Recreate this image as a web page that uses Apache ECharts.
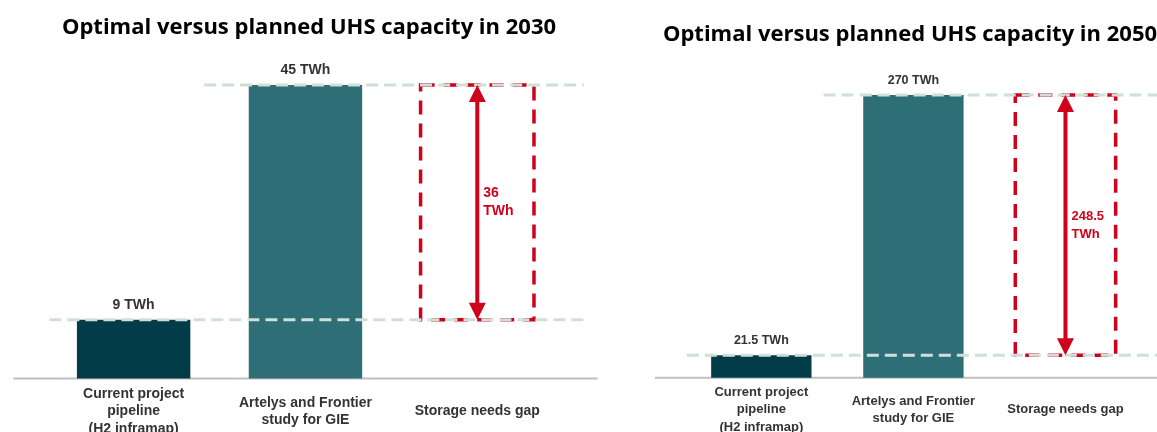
<!DOCTYPE html>
<html>
<head>
<meta charset="utf-8">
<script src="https://cdn.jsdelivr.net/npm/echarts@6/dist/echarts.min.js"></script>
<style>
  html, body { margin: 0; padding: 0; background: #ffffff; }
  #chart { width: 1157px; height: 432px; }
</style>
</head>
<body>
<div id="chart"></div>
<script>
// ---- data ----
const titles = ['Optimal versus planned UHS capacity in 2030', 'Optimal versus planned UHS capacity in 2050'];
const categories = ['Current project\npipeline\n(H2 inframap)', 'Artelys and Frontier\nstudy for GIE', 'Storage needs gap'];
const pipelineTWh = [9, 21.5];   // current project pipeline (H2 inframap)
const studyTWh = [45, 270];      // Artelys and Frontier study for GIE
const unit = 'TWh';

// ---- style ----
const DARK = '#033c49';
const TEAL = '#2e6e77';
const RED = '#d0021b';
const GUIDE = '#cfe0d8';
const AXIS = '#bfbfbf';
const TXT = '#333333';
const SANS = '"Liberation Sans", Arial, sans-serif';

const layout = [
  { grid: { left: 47.7, right: 593.8, top: 85, bottom: 53.5 }, titleX: 304, titleTop: 9, labelSize: 14, barLabelSize: 14, gapSize: 14, labelMargin: 33 },
  { grid: { left: 685.3, right: 15.5, top: 95, bottom: 54.3 }, titleX: 905, titleTop: 16, labelSize: 13, barLabelSize: 12.5, gapSize: 13, labelMargin: 32 }
];

const fmt = v => (Math.round(v * 10) / 10).toString();

const option = {
  animation: false,
  backgroundColor: '#ffffff',
  title: [],
  grid: [],
  xAxis: [],
  yAxis: [],
  series: []
};

layout.forEach((L, i) => {
  option.title.push({
    text: titles[i],
    left: L.titleX,
    top: L.titleTop,
    textAlign: 'center',
    textStyle: { fontFamily: '"Open Sans", Lato, sans-serif', fontWeight: 'bold', fontSize: 22, color: '#000', lineHeight: 28 }
  });
  option.grid.push(Object.assign({ containLabel: false, outerBoundsMode: 'none' }, L.grid));
  option.xAxis.push({
    type: 'category', gridIndex: i, data: categories,
    axisLine: { show: false }, axisTick: { show: false }, splitLine: { show: false },
    axisLabel: {
      interval: 0, margin: L.labelMargin, verticalAlign: 'middle',
      fontFamily: SANS, fontWeight: 'bold', fontSize: L.labelSize, lineHeight: 17.5, color: TXT
    }
  });
  option.yAxis.push({ type: 'value', gridIndex: i, min: 0, max: studyTWh[i], show: false });

  // baseline (drawn under the bars, extends past outer categories)
  option.series.push({
    type: 'custom', xAxisIndex: i, yAxisIndex: i, z: 1, silent: true,
    data: [[0, 2]],
    renderItem: (params, api) => {
      const band = api.size([1, 0])[0];
      const a = api.coord([api.value(0), 0]);
      const b = api.coord([api.value(1), 0]);
      return { type: 'line', shape: { x1: a[0] - 0.7 * band, y1: a[1], x2: b[0] + 0.7 * band, y2: b[1] },
               style: { stroke: AXIS, lineWidth: 2 } };
    }
  });

  // bars
  option.series.push({
    type: 'bar', xAxisIndex: i, yAxisIndex: i, z: 2, barWidth: '66%',
    data: [
      { value: pipelineTWh[i], itemStyle: { color: DARK } },
      { value: studyTWh[i], itemStyle: { color: TEAL } },
      '-'
    ],
    label: {
      show: true, position: 'top', distance: 8,
      formatter: p => fmt(p.value) + ' ' + unit,
      fontFamily: SANS, fontWeight: 'bold', fontSize: L.barLabelSize, color: TXT
    }
  });

  // gap box, guide lines, arrow and gap label
  option.series.push({
    type: 'custom', xAxisIndex: i, yAxisIndex: i, z: 3, silent: true,
    data: [[2, pipelineTWh[i], studyTWh[i]]],
    renderItem: (params, api) => {
      const band = api.size([1, 0])[0];
      const lo = api.coord([api.value(0), api.value(1)]);
      const hi = api.coord([api.value(0), api.value(2)]);
      const c0 = api.coord([0, api.value(1)]);
      const c1 = api.coord([1, api.value(2)]);
      const w = band * 0.66;
      const cx = lo[0];
      const xEnd = cx + 0.62 * band;
      const head = 17, hw = 8.5;
      const gap = api.value(2) - api.value(1);
      return {
        type: 'group',
        children: [
          { type: 'rect', shape: { x: cx - w / 2, y: hi[1], width: w, height: lo[1] - hi[1] },
            style: { fill: 'none', stroke: RED, lineWidth: 3.5, lineDash: [14, 9] } },
          { type: 'line', shape: { x1: c0[0] - 0.49 * band, y1: lo[1], x2: xEnd, y2: lo[1] },
            style: { stroke: GUIDE, lineWidth: 3, lineDash: [12, 6] } },
          { type: 'line', shape: { x1: c1[0] - 0.59 * band, y1: hi[1], x2: xEnd, y2: hi[1] },
            style: { stroke: GUIDE, lineWidth: 3, lineDash: [12, 6] } },
          { type: 'line', shape: { x1: cx, y1: hi[1] + head - 1, x2: cx, y2: lo[1] - head + 1 },
            style: { stroke: RED, lineWidth: 4 } },
          { type: 'polygon', shape: { points: [[cx, hi[1]], [cx - hw, hi[1] + head], [cx + hw, hi[1] + head]] },
            style: { fill: RED } },
          { type: 'polygon', shape: { points: [[cx, lo[1]], [cx - hw, lo[1] - head], [cx + hw, lo[1] - head]] },
            style: { fill: RED } },
          { type: 'text', x: cx + 6, y: (hi[1] + lo[1]) / 2,
            style: { text: fmt(gap) + '\n' + unit, fill: RED, fontFamily: SANS, fontWeight: 'bold',
                     fontSize: L.gapSize, lineHeight: 18, align: 'left', verticalAlign: 'middle' } }
        ]
      };
    }
  });
});

const chart = echarts.init(document.getElementById('chart'), null, { renderer: 'canvas' });
chart.setOption(option);
</script>
</body>
</html>
